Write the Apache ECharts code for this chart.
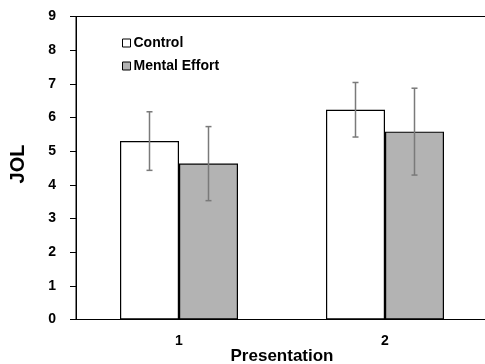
<!DOCTYPE html>
<html>
<head>
<meta charset="utf-8">
<script src="https://cdn.jsdelivr.net/npm/echarts@6/dist/echarts.min.js"></script>
<style>html,body{margin:0;padding:0;background:#fff;}#c{width:485px;height:364px;}</style>
</head>
<body>
<div id="c"></div>
<script>
var categories = ['1', '2'];
var controlMeans = [5.30, 6.23];
var controlErr = [0.87, 0.81];
var effortMeans = [4.63, 5.58];
var effortErr = [1.10, 1.29];
var yTicks = [0, 1, 2, 3, 4, 5, 6, 7, 8, 9];

var BAR_W = 59;
var FONT = 'Liberation Sans, Arial, sans-serif';

function errData(means, errs) {
  return means.map(function (m, i) { return [i, m - errs[i], m + errs[i]]; });
}
function errSeries(means, errs, offset) {
  return {
    type: 'custom',
    data: errData(means, errs),
    z: 10,
    renderItem: function (params, api) {
      var lo = api.coord([api.value(0), api.value(1)]);
      var hi = api.coord([api.value(0), api.value(2)]);
      var x = lo[0] + offset;
      var cw = 3;
      var st = { stroke: '#7a7a7a', lineWidth: 1.5 };
      return {
        type: 'group',
        children: [
          { type: 'line', shape: { x1: x, y1: lo[1], x2: x, y2: hi[1] }, style: st },
          { type: 'line', shape: { x1: x - cw, y1: lo[1], x2: x + cw, y2: lo[1] }, style: st },
          { type: 'line', shape: { x1: x - cw, y1: hi[1], x2: x + cw, y2: hi[1] }, style: st }
        ]
      };
    }
  };
}

var chart = echarts.init(document.getElementById('c'));
chart.setOption({
  animation: false,
  backgroundColor: '#fff',
  grid: { left: 76, top: 16.5, right: -3, bottom: 44.5, containLabel: false, outerBoundsMode: 'none', show: true, borderColor: '#000', borderWidth: 1, backgroundColor: 'transparent' },
  legend: {
    orient: 'vertical',
    left: 117,
    top: 31,
    itemWidth: 8,
    itemHeight: 8,
    itemGap: 9,
    icon: 'rect',
    data: ['Control', 'Mental Effort'],
    itemStyle: { borderColor: '#000', borderWidth: 1 },
    textStyle: { fontFamily: FONT, fontWeight: 'bold', fontSize: 14, color: '#000', padding: [0, 0, 0, -2] }
  },
  xAxis: {
    type: 'category',
    data: categories,
    name: 'Presentation',
    nameLocation: 'middle',
    nameGap: 28,
    nameMoveOverlap: false,
    nameTextStyle: { fontFamily: FONT, fontWeight: 'bold', fontSize: 17, color: '#000' },
    axisLine: { lineStyle: { color: '#000', width: 1 } },
    axisTick: { show: false },
    axisLabel: { margin: 15, fontFamily: FONT, fontWeight: 'bold', fontSize: 14, color: '#000' }
  },
  yAxis: {
    type: 'value',
    min: yTicks[0],
    max: yTicks[yTicks.length - 1],
    interval: 1,
    name: 'JOL',
    nameLocation: 'middle',
    nameGap: 48,
    nameRotate: 90,
    nameMoveOverlap: false,
    nameTextStyle: { fontFamily: FONT, fontWeight: 'bold', fontSize: 20, color: '#000', padding: [0, 0, 0, 8] },
    axisLine: { show: true, lineStyle: { color: '#000', width: 1 } },
    axisTick: { show: true, length: 6, lineStyle: { color: '#000' } },
    splitLine: { show: false },
    axisLabel: { margin: 20, fontFamily: FONT, fontWeight: 'bold', fontSize: 14, color: '#000' }
  },
  series: [
    {
      name: 'Control', type: 'bar', data: controlMeans, barWidth: BAR_W, barGap: '0%',
      itemStyle: { color: '#ffffff', borderColor: '#000', borderWidth: 1.2 }
    },
    {
      name: 'Mental Effort', type: 'bar', data: effortMeans, barWidth: BAR_W, barGap: '0%',
      itemStyle: { color: '#b3b3b3', borderColor: '#000', borderWidth: 1.2 }
    },
    errSeries(controlMeans, controlErr, -BAR_W / 2),
    errSeries(effortMeans, effortErr, BAR_W / 2)
  ]
});
</script>
</body>
</html>
